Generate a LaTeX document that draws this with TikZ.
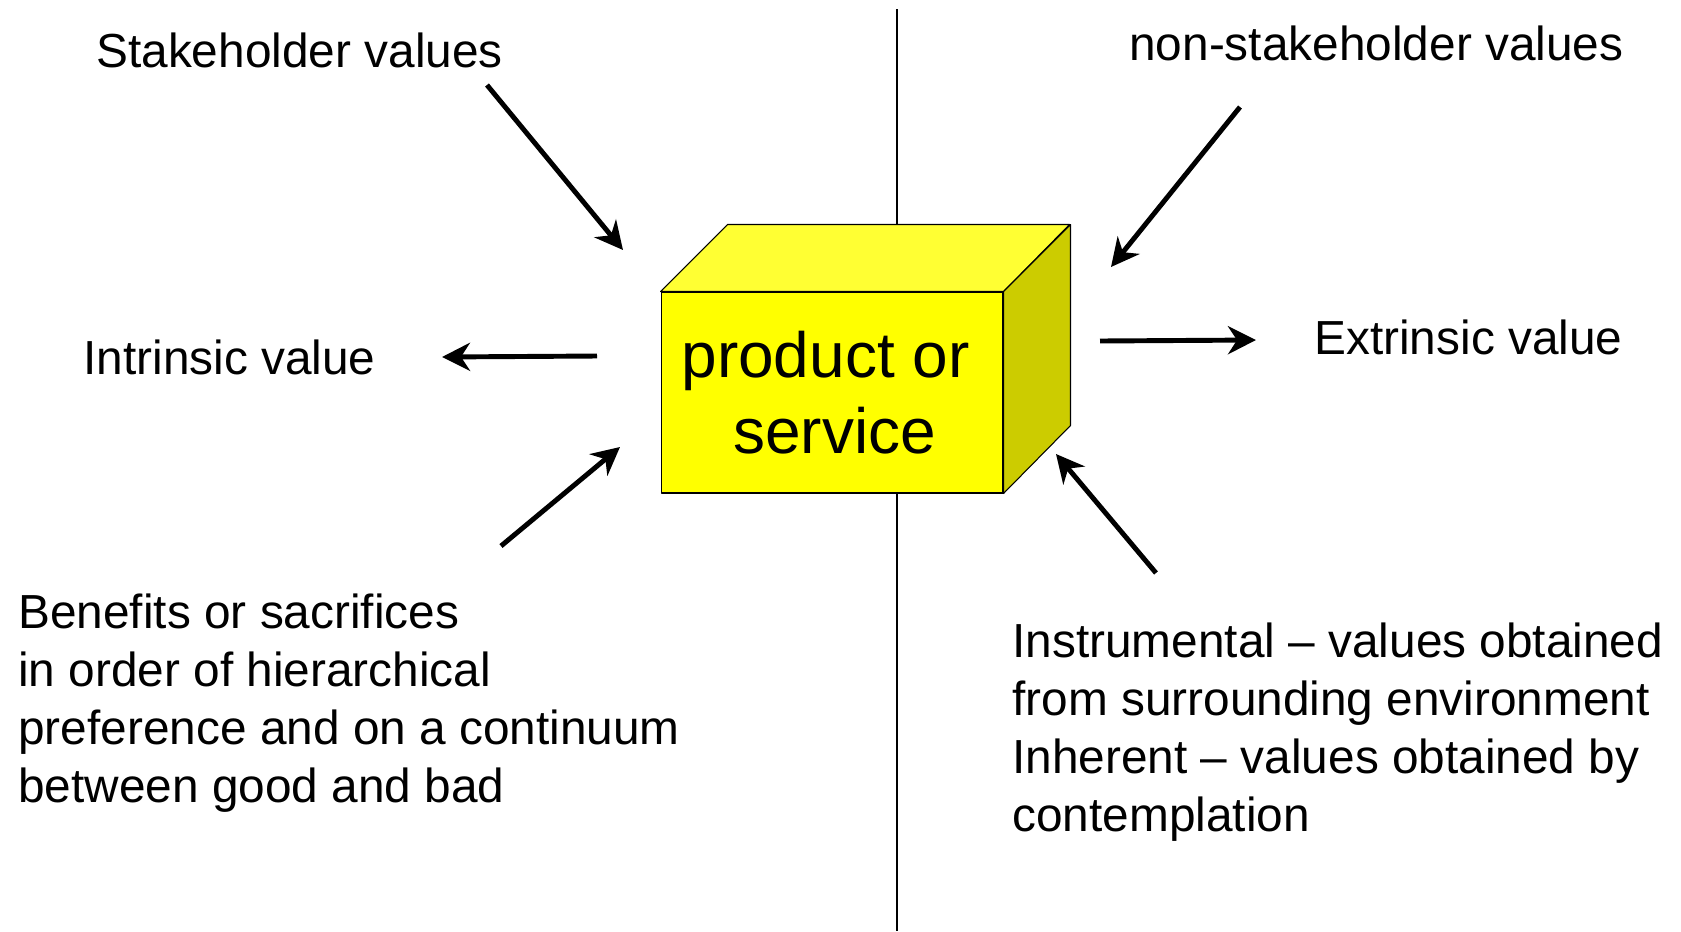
\documentclass[tikz,border=0pt]{standalone}
\usepackage{fontspec}
\setmainfont{Liberation Sans}
\usetikzlibrary{arrows.meta}
\definecolor{frontyellow}{RGB}{255,255,0}
\definecolor{topyellow}{RGB}{255,255,51}
\definecolor{sideyellow}{RGB}{204,204,0}

\begin{document}
\begin{tikzpicture}[x=0.02cm,y=-0.02cm,
        bigarrow/.style={line width=2.8pt,-{Stealth[length=0.56cm,width=0.56cm,inset=0.18cm]}},
        txt/.style={inner sep=0pt,anchor=west,align=left,font=\fontsize{27.2}{33}\selectfont},
        face/.style={draw,line width=0.6pt,line join=round}]
    \useasboundingbox (0,0) rectangle (1681,931);
    % dividing line
    \draw[line width=1.1pt] (897,9) -- (897,931);
    % the box
    \node[face,fill=frontyellow,minimum width=6.84cm,minimum height=4.02cm,align=center,
        font=\fontsize{36.4}{43}\selectfont] (box) at (832,392.5)
        {product or\hspace*{0.26cm}\\\hspace*{0.1cm}service};
    \draw[face,fill=topyellow] (box.north west) -- ++(67,-67) -- ++(342,0) -- (box.north east) -- cycle;
    \draw[face,fill=sideyellow] (box.north east) -- ++(67,-67) -- ++(0,201) -- (box.south east) -- cycle;
    % texts
    \node[txt] (stake) at (96,50) {Stakeholder values};
    \node[txt] (nonstake) at (1129,43) {non-stakeholder values};
    \node[txt] (intr) at (83,357) {Intrinsic value};
    \node[txt] (extr) at (1314,337) {Extrinsic value};
    \node[txt] (benef) at (18,703) {Benefits or sacrifices\\in order of hierarchical\\preference and on a continuum\\between good and bad};
    \node[txt] (instr) at (1012,732) {Instrumental – values obtained\\from surrounding environment\\Inherent – values obtained by\\contemplation};
    % arrow ends
    \path (487,85) coordinate (s1) (623,250) coordinate (t1);
    \path (1240,107) coordinate (s2) (1111,267) coordinate (t2);
    \path (597,356) coordinate (s3) (442,357) coordinate (t3);
    \path (1100,341) coordinate (s4) (1256,340) coordinate (t4);
    \path (501,546) coordinate (s5) (620,447) coordinate (t5);
    \path (1156,573) coordinate (s6) (1056,454) coordinate (t6);
    \draw[bigarrow] (s1) -- (t1);
    \draw[bigarrow] (s2) -- (t2);
    \draw[bigarrow] (s3) -- (t3);
    \draw[bigarrow] (s4) -- (t4);
    \draw[bigarrow] (s5) -- (t5);
    \draw[bigarrow] (s6) -- (t6);
\end{tikzpicture}
\end{document}
